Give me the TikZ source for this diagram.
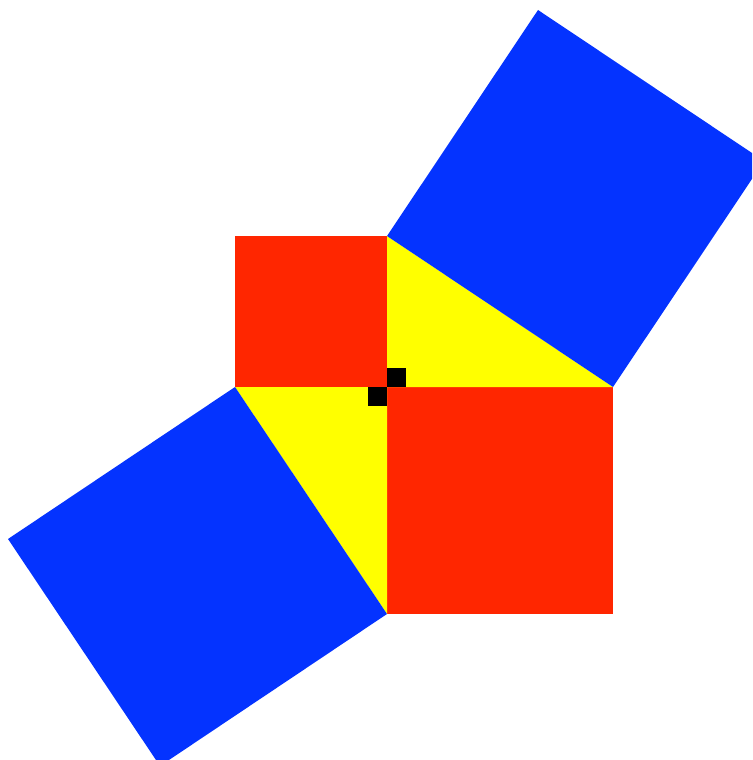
\documentclass[tikz,border=0pt]{standalone}
\definecolor{sqblue}{HTML}{0433FF}
\definecolor{sqred}{HTML}{FF2600}
\definecolor{triyellow}{HTML}{FFFF00}
\tikzset{
  bluesq/.style={fill=sqblue,draw=none},
  redsq/.style={fill=sqred,draw=none},
  tri/.style={fill=triyellow,draw=none},
  mark/.style={},
  rtmark/.style={fill=black,draw=none}
}
\begin{document}
\begin{tikzpicture}[x=1pt,y=-1pt]
\useasboundingbox (0,0) rectangle (752,760);
\clip (0,0) rectangle (752,760);
\coordinate (O) at (387,387);
\coordinate (A) at (387,236);
\coordinate (B) at (613,387);
\coordinate (C) at (235,387);
\coordinate (D) at (387,614);
% red squares
\fill[redsq] (235,236) rectangle (O);
\fill[redsq] (O) rectangle (613,614);
% yellow triangles
\fill[tri] (A) -- (O) -- (B) -- cycle;
\fill[tri] (C) -- (O) -- (D) -- cycle;
% blue squares
\fill[bluesq] (A) -- (B) -- (764,161) -- (538,10) -- cycle;
\fill[bluesq] (C) -- (D) -- (160,766) -- (8,539) -- cycle;
% right-angle markers
\fill[rtmark] (387,368) rectangle (406,387);
\fill[rtmark] (368,387) rectangle (387,406);
\end{tikzpicture}
\end{document}
